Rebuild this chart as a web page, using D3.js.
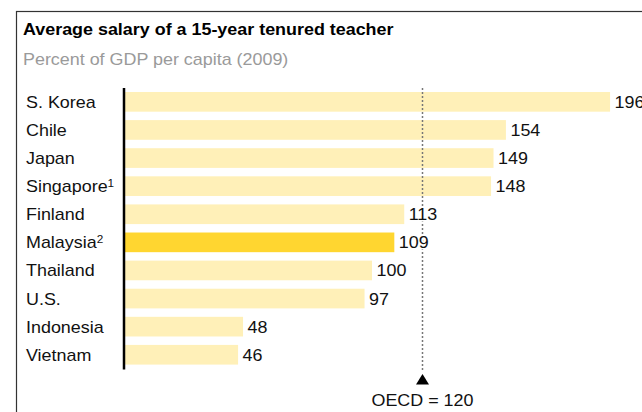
<!DOCTYPE html>
<html>
<head>
<meta charset="utf-8">
<script src="https://cdn.jsdelivr.net/npm/d3@7"></script>
<style>
  html, body { margin: 0; padding: 0; background: #fff; }
  svg { display: block; font-family: "Liberation Sans", Arial, Helvetica, sans-serif; }
</style>
</head>
<body>
<svg id="chart" width="642" height="412"></svg>
<script>
// Salary of a teacher with 15 years of tenure, as percent of GDP per capita (2009)
const countries = ["S. Korea", "Chile", "Japan", "Singapore", "Finland", "Malaysia", "Thailand", "U.S.", "Indonesia", "Vietnam"];
const footnotes = ["", "", "", "1", "", "2", "", "", "", ""];
const salaries = [196, 154, 149, 148, 113, 109, 100, 97, 48, 46];
const highlighted = ["Malaysia"];
const oecdAverage = 120;
const titleText = "Average salary of a 15-year tenured teacher";
const subtitleText = "Percent of GDP per capita (2009)";
const oecdLabel = "OECD = " + oecdAverage;

const rows = countries.map((c, i) => ({ country: c, note: footnotes[i], value: salaries[i] }));

// the typeface is set slightly wide
const WIDE = 1.12;
function place(sel, fx, fy) {
  return sel.attr("transform", (d, i) => {
    const px = typeof fx === "function" ? fx(d, i) : fx;
    const py = typeof fy === "function" ? fy(d, i) : fy;
    return `translate(${px},${py}) scale(${WIDE},1)`;
  });
}

const svg = d3.select("#chart");

// frame
svg.append("rect")
  .attr("x", 16.5).attr("y", 11.5)
  .attr("width", 700).attr("height", 500)
  .attr("fill", "none").attr("stroke", "#333").attr("stroke-width", 1.2);

place(svg.append("text"), 23, 35)
  .attr("font-size", 16).attr("font-weight", "bold").attr("fill", "#000")
  .text(titleText);

place(svg.append("text"), 23, 65)
  .attr("font-size", 16).attr("fill", "#9a9a9a")
  .text(subtitleText);

const x = d3.scaleLinear().domain([0, 200]).range([124, 620]);
const y = d3.scaleBand().domain(countries).range([87.8, 368.8])
  .paddingInner(0.3).paddingOuter(0.15);
const mid = d => y(d.country) + y.bandwidth() / 2;

// bars
svg.append("g").selectAll("rect").data(rows).join("rect")
  .attr("x", x(0))
  .attr("y", d => y(d.country))
  .attr("width", d => x(d.value) - x(0))
  .attr("height", y.bandwidth())
  .attr("fill", d => highlighted.includes(d.country) ? "#FFD630" : "#FFF0B8");

// OECD reference line
const ox = Math.round(x(oecdAverage)) + 0.5;
svg.append("line")
  .attr("x1", ox).attr("x2", ox)
  .attr("y1", 88).attr("y2", 372)
  .attr("stroke", "#777").attr("stroke-width", 1.5)
  .attr("stroke-dasharray", "2,2");

svg.append("path")
  .attr("d", d3.line()([[ox, 374], [ox + 6.5, 384.5], [ox - 6.5, 384.5]]) + "Z")
  .attr("fill", "#000");

place(svg.append("text"), ox, 406)
  .attr("text-anchor", "middle")
  .attr("font-size", 16).attr("fill", "#111")
  .text(oecdLabel);

// value labels with a white halo so the reference line breaks behind them
place(svg.append("g").selectAll("text").data(rows).join("text"),
    d => x(d.value) + 4.5, d => mid(d) + 6)
  .attr("font-size", 16).attr("fill", "#111")
  .attr("stroke", "#fff").attr("stroke-width", 3).attr("paint-order", "stroke")
  .text(d => d.value);

// category labels
const cat = place(svg.append("g").selectAll("text").data(rows).join("text"),
    26, d => mid(d) + 6)
  .attr("font-size", 16).attr("fill", "#111");
cat.append("tspan").text(d => d.country);
cat.filter(d => d.note).append("tspan")
  .attr("font-size", 10.5).attr("dy", -5.5)
  .text(d => d.note);

// vertical axis line
svg.append("line")
  .attr("x1", 124).attr("x2", 124)
  .attr("y1", 88).attr("y2", 369.5)
  .attr("stroke", "#000").attr("stroke-width", 2.5);
</script>
</body>
</html>
